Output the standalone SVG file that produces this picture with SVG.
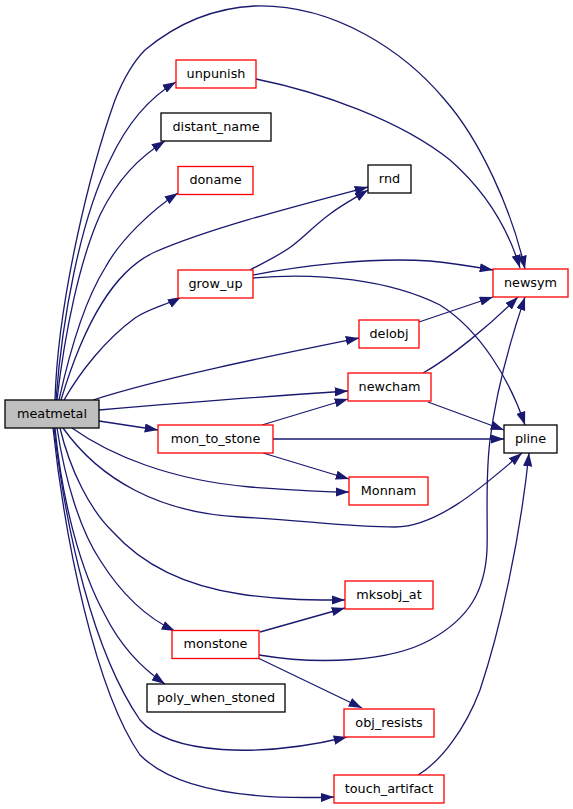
<svg xmlns="http://www.w3.org/2000/svg" width="573" height="809" viewBox="0 0 573 809">
<style>
.n rect{fill:#ffffff;stroke-width:1.3}
.r rect{stroke:#ff0000}
.b rect{stroke:#000000}
.n text{font-family:"DejaVu Sans",sans-serif;font-size:12.8px;fill:#000000;text-anchor:middle}
.e path{fill:none;stroke:#191970;stroke-width:1.3;marker-end:url(#ah)}
</style>
<defs>
<marker id="ah" viewBox="0 0 13.3 9.3" refX="13.3" refY="4.65" markerWidth="13.3" markerHeight="9.3" markerUnits="userSpaceOnUse" orient="auto">
<path d="M0,0 L13.3,4.65 L0,9.3 z" fill="#191970"/>
</marker>
</defs>
<rect width="573" height="809" fill="#ffffff"/>
<g id="edges" class="e">
<path d="M55,400 C 58,300 90,170 115,100 C 125,75 135,60 145,50 C 175,25 210,8 255,6 C 335,4 405,52 445,100 C 480,140 512,210 525,269"/>
<path d="M256,79 C 320,92 400,120 450,160 C 490,195 510,235 520,268"/>
<path d="M56,400 C 62,320 80,220 110,160 C 125,128 145,100 176,82"/>
<path d="M57,400 C 65,330 80,260 100,215 C 118,178 140,157 165,141"/>
<path d="M59,400 C 70,350 85,300 105,268 C 120,240 152,210 178,193"/>
<path d="M61,400 C 85,320 115,270 155,252 C 210,228 300,205 368,187"/>
<path d="M64,400 C 80,372 105,340 135,318 C 150,308 167,305 181,297"/>
<path d="M93,400 C 160,378 280,354 359,338"/>
<path d="M99,410 C 170,404 270,396 348,391"/>
<path d="M99,421 L158,430"/>
<path d="M72,428 C 110,455 170,480 250,487 C 290,490 320,492 349,492"/>
<path d="M63,428 C 100,480 160,513 240,517 C 300,520 350,527 395,527 C 440,527 490,480 522,453"/>
<path d="M60,428 C 70,470 90,510 113,532 C 140,562 180,585 240,594 C 280,600 310,600 345,600"/>
<path d="M57,428 C 65,480 80,530 100,560 C 120,592 145,617 175,631"/>
<path d="M55,428 C 62,500 80,570 105,615 C 120,645 140,667 165,684"/>
<path d="M54,428 C 66,530 92,650 140,720 C 170,755 260,758 347,737"/>
<path d="M53,428 C 65,540 95,690 140,755 C 175,790 250,800 334,797"/>
<path d="M250,270 C 265,262 280,255 292,246 C 305,236 315,225 330,214 C 340,206 355,198 368,190"/>
<path d="M253,275 C 300,266 370,257 430,261 C 450,263 470,266 493,270"/>
<path d="M253,278 C 320,272 390,280 440,305 C 480,330 510,380 525,425"/>
<path d="M419,322 L493,297"/>
<path d="M423,373 C 450,358 490,325 518,297"/>
<path d="M428,402 L504,430"/>
<path d="M262,425 L348,399"/>
<path d="M273,439 L504,439"/>
<path d="M263,453 L349,479"/>
<path d="M260,632 L345,608"/>
<path d="M258,658 L362,708"/>
<path d="M259,655 C 320,665 390,662 430,640 C 470,618 485,590 487,550 C 488,520 485,480 490,440 C 495,400 507,350 525,297"/>
<path d="M418,775 C 440,762 465,730 480,690 C 500,630 520,540 529,453"/>
</g>
<g id="meatmetal" class="n b"><rect x="5" y="400" width="94" height="28" style="fill:#bfbfbf"/><text x="52" y="417.5">meatmetal</text></g>
<g id="unpunish" class="n r"><rect x="176" y="60" width="80" height="28"/><text x="216" y="77.5">unpunish</text></g>
<g id="distant_name" class="n b"><rect x="161" y="113" width="110" height="28"/><text x="216" y="130.5">distant_name</text></g>
<g id="doname" class="n r"><rect x="178" y="166.5" width="75" height="28"/><text x="215.5" y="184">doname</text></g>
<g id="rnd" class="n b"><rect x="368" y="165" width="43" height="28"/><text x="389.5" y="182.5">rnd</text></g>
<g id="grow_up" class="n r"><rect x="178" y="270" width="75" height="28"/><text x="215.5" y="287.5">grow_up</text></g>
<g id="newsym" class="n r"><rect x="493" y="269" width="75" height="28"/><text x="530.5" y="286.5">newsym</text></g>
<g id="delobj" class="n r"><rect x="359" y="320" width="60" height="28"/><text x="389" y="337.5">delobj</text></g>
<g id="newcham" class="n r"><rect x="348" y="373" width="83" height="28"/><text x="389.5" y="390.5">newcham</text></g>
<g id="mon_to_stone" class="n r"><rect x="158" y="425" width="115" height="28"/><text x="215.5" y="442.5">mon_to_stone</text></g>
<g id="pline" class="n b"><rect x="504" y="425" width="53" height="28"/><text x="530.5" y="442.5">pline</text></g>
<g id="Monnam" class="n r"><rect x="349" y="477" width="79" height="28"/><text x="388.5" y="494.5">Monnam</text></g>
<g id="mksobj_at" class="n r"><rect x="345" y="581" width="88" height="28"/><text x="389" y="598.5">mksobj_at</text></g>
<g id="monstone" class="n r"><rect x="172" y="630.5" width="87" height="28"/><text x="215.5" y="648">monstone</text></g>
<g id="poly_when_stoned" class="n b"><rect x="147" y="684" width="138" height="28"/><text x="216" y="701.5">poly_when_stoned</text></g>
<g id="obj_resists" class="n r"><rect x="344" y="709" width="90" height="28"/><text x="389" y="726.5">obj_resists</text></g>
<g id="touch_artifact" class="n r"><rect x="334" y="775" width="110" height="28"/><text x="389" y="792.5">touch_artifact</text></g>
</svg>
